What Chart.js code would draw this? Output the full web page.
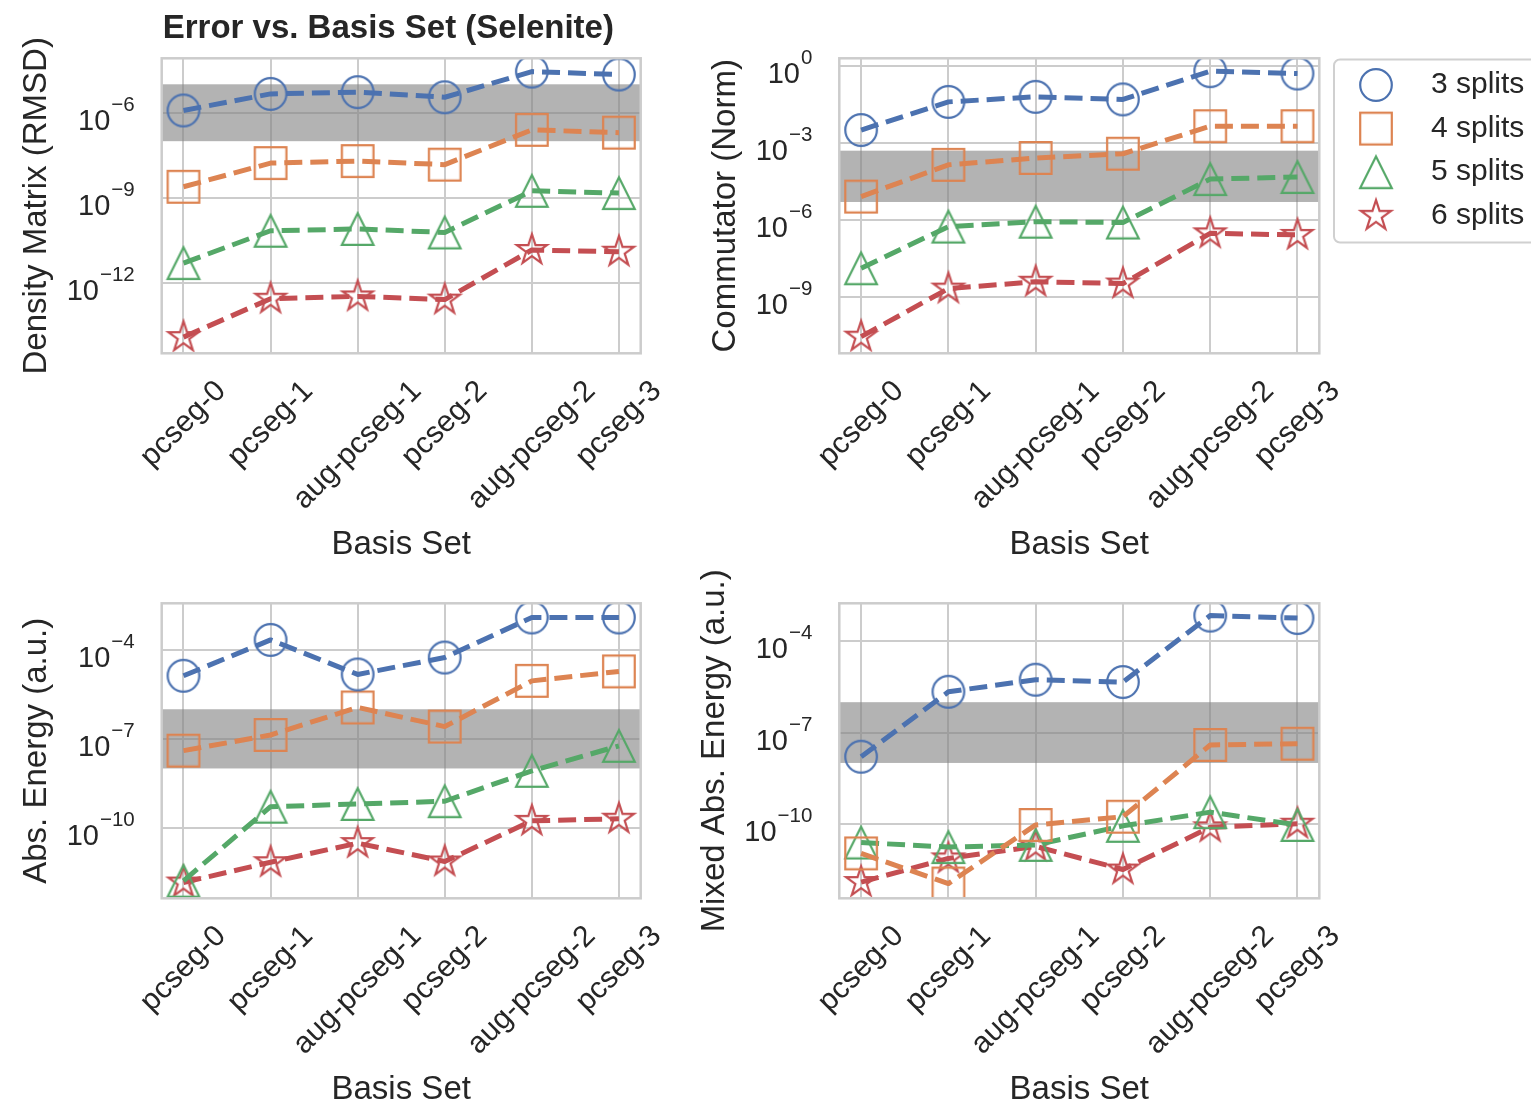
<!DOCTYPE html>
<html>
<head>
<meta charset="utf-8">
<script src="https://cdn.jsdelivr.net/npm/chart.js@4.4.1/dist/chart.umd.min.js"></script>
<style>
  html, body { margin: 0; padding: 0; background: #ffffff; overflow: hidden; }
  #wrap { position: relative; width: 1531px; height: 1101px; }
  #wrap canvas { position: absolute; left: 0; top: 0; }
</style>
</head>
<body>
<div id="wrap">
  <canvas id="density" width="1531" height="1101"></canvas>
  <canvas id="commutator" width="1531" height="1101"></canvas>
  <canvas id="energy" width="1531" height="1101"></canvas>
  <canvas id="mixed" width="1531" height="1101"></canvas>
</div>
<script>
// ---- categories and series -------------------------------------------
const basisSets = ['pcseg-0', 'pcseg-1', 'aug-pcseg-1', 'pcseg-2', 'aug-pcseg-2', 'pcseg-3'];
const seriesNames = ['3 splits', '4 splits', '5 splits', '6 splits'];

// Density matrix error (RMSD)
const density3 = [1.2e-6, 4.6e-6, 5.3e-6, 3.5e-6, 2.8e-5, 2.2e-5];
const density4 = [2.5e-9, 1.7e-8, 2.0e-8, 1.5e-8, 2.5e-7, 2.0e-7];
const density5 = [5.2e-12, 7.1e-11, 8.2e-11, 6.2e-11, 1.8e-9, 1.5e-9];
const density6 = [1.3e-14, 2.9e-13, 3.5e-13, 2.7e-13, 1.5e-11, 1.3e-11];

// Commutator norm
const comm3 = [3.2e-3, 4.0e-2, 6.3e-2, 5.0e-2, 0.63, 0.51];
const comm4 = [8.1e-6, 1.4e-4, 2.6e-4, 3.8e-4, 4.5e-3, 4.5e-3];
const comm5 = [1.3e-8, 5.5e-7, 8.5e-7, 7.9e-7, 3.9e-5, 4.7e-5];
const comm6 = [2.8e-11, 2.1e-9, 3.9e-9, 3.3e-9, 3.0e-7, 2.6e-7];

// Absolute energy error (a.u.)
const energy3 = [1.35e-5, 2.2e-4, 1.5e-5, 5.6e-5, 1.26e-3, 1.26e-3];
const energy4 = [4.0e-8, 1.35e-7, 1.15e-6, 2.6e-7, 9.1e-6, 1.9e-5];
const energy5 = [1.6e-12, 5.1e-10, 6.3e-10, 7.8e-10, 8.3e-9, 5.8e-8];
const energy6 = [1.4e-12, 6.8e-12, 3.0e-11, 7.2e-12, 1.7e-10, 2.0e-10];

// Mixed absolute energy error (a.u.)
const mixed3 = [1.6e-8, 2.2e-6, 5.5e-6, 4.6e-6, 7.1e-4, 5.9e-4];
const mixed4 = [1.05e-11, 1.07e-12, 9.1e-11, 1.7e-10, 3.9e-8, 4.3e-8];
const mixed5 = [2.4e-11, 1.7e-11, 2.0e-11, 8.5e-11, 2.4e-10, 9.1e-11];
const mixed6 = [1.2e-12, 7.2e-12, 1.8e-11, 3.1e-12, 7.6e-11, 1.0e-10];

// Tolerance bands [low, high]
const densityBand = [1e-7, 1e-5];
const commBand = [5e-6, 5e-4];
const energyBand = [1e-8, 1e-6];
const mixedBand = [1e-8, 1e-6];

// Log-axis ticks and limits
const densityTicks = [1e-6, 1e-9, 1e-12];
const commTicks = [1e0, 1e-3, 1e-6, 1e-9];
const energyTicks = [1e-4, 1e-7, 1e-10];
const mixedTicks = [1e-4, 1e-7, 1e-10];
const densityLimits = [3.5e-15, 8.2e-5];
const commLimits = [6.3e-12, 2.0];
const energyLimits = [4.1e-13, 3.8e-3];
const mixedLimits = [3.5e-13, 1.8e-3];

// ---- styling ----------------------------------------------------------
const FONT = '"Liberation Sans", Arial, Helvetica, sans-serif';
const TEXT = '#262626';
const GRID = '#cccccc';
const colors = ['#4C72B0', '#DD8452', '#55A868', '#C44E52'];
const shapes = ['circle', 'square', 'triangle', 'star'];
const TICK_PX = 30;
const POW_PX = 29;
const EXP_PX = 20.5;
const LABEL_PX = 33;

function makeMarker(shape, color) {
  const s = 44, c = s / 2, r = 15.8;
  const cv = document.createElement('canvas');
  cv.width = s; cv.height = s;
  const g = cv.getContext('2d');
  g.strokeStyle = color;
  g.lineWidth = 2.2;
  g.lineJoin = 'miter';
  g.beginPath();
  if (shape === 'circle') {
    g.arc(c, c, r, 0, Math.PI * 2);
  } else if (shape === 'square') {
    g.rect(c - r, c - r, 2 * r, 2 * r);
  } else if (shape === 'triangle') {
    g.moveTo(c, c - r); g.lineTo(c + r, c + r); g.lineTo(c - r, c + r); g.closePath();
  } else {
    const ri = r * 0.381966;
    for (let k = 0; k < 10; k++) {
      const rr = k % 2 ? ri : r;
      const ang = -Math.PI / 2 + k * Math.PI / 5;
      const px = c + rr * Math.cos(ang), py = c + rr * Math.sin(ang);
      if (k) g.lineTo(px, py); else g.moveTo(px, py);
    }
    g.closePath();
  }
  g.stroke();
  return cv;
}
const markers = shapes.map((s, k) => makeMarker(s, colors[k]));

function roundRectPath(ctx, x, y, w, h, r) {
  ctx.beginPath();
  ctx.moveTo(x + r, y);
  ctx.lineTo(x + w - r, y); ctx.arcTo(x + w, y, x + w, y + r, r);
  ctx.lineTo(x + w, y + h - r); ctx.arcTo(x + w, y + h, x + w - r, y + h, r);
  ctx.lineTo(x + r, y + h); ctx.arcTo(x, y + h, x, y + h - r, r);
  ctx.lineTo(x, y + r); ctx.arcTo(x, y, x + r, y, r);
  ctx.closePath();
}

// Decorations: tolerance band, frame, tick labels, axis titles, legend
function decorPlugin(cfg) {
  return {
    id: 'decor',
    beforeDatasetsDraw(chart) {
      const { ctx, chartArea: a } = chart;
      const y = chart.scales.y;
      const yHi = y.getPixelForValue(cfg.band[1]);
      const yLo = y.getPixelForValue(cfg.band[0]);
      ctx.save();
      ctx.fillStyle = 'rgba(128,128,128,0.6)';
      ctx.fillRect(a.left, yHi, a.right - a.left, yLo - yHi);
      ctx.restore();
    },
    afterDatasetsDraw(chart) {
      const { ctx, chartArea: a } = chart;
      ctx.save();
      ctx.strokeStyle = GRID;
      ctx.lineWidth = 2.5;
      ctx.strokeRect(a.left, a.top, a.right - a.left, a.bottom - a.top);
      ctx.restore();
    },
    afterDraw(chart) {
      const { ctx, chartArea: a } = chart;
      const xs = chart.scales.x, ys = chart.scales.y;
      ctx.save();
      ctx.fillStyle = TEXT;

      // rotated category labels, centred under each tick
      ctx.font = TICK_PX + 'px ' + FONT;
      basisSets.forEach((lab, i) => {
        const x = xs.getPixelForValue(i);
        const w = ctx.measureText(lab).width;
        const side = (w + 0.95 * TICK_PX) * Math.SQRT1_2;
        const cy = a.bottom + 23 + side / 2;
        ctx.save();
        ctx.translate(x, cy);
        ctx.rotate(-Math.PI / 4);
        ctx.textAlign = 'center';
        ctx.textBaseline = 'middle';
        ctx.fillText(lab, 0, 0);
        ctx.restore();
      });

      // power-of-ten labels
      let minLeft = Infinity;
      cfg.ticks.forEach(v => {
        const y = ys.getPixelForValue(v);
        const e = Math.round(Math.log10(v));
        const expStr = e === 0 ? '0' : '\u2212' + Math.abs(e);
        const xr = a.left - 27;
        ctx.textAlign = 'right';
        ctx.textBaseline = 'alphabetic';
        ctx.font = EXP_PX + 'px ' + FONT;
        ctx.fillText(expStr, xr, y - 2);
        const ew = ctx.measureText(expStr).width;
        ctx.font = POW_PX + 'px ' + FONT;
        ctx.fillText('10', xr - ew - 1, y + 17);
        const bw = ctx.measureText('10').width;
        minLeft = Math.min(minLeft, xr - ew - 1 - bw);
      });

      // y-axis title
      ctx.save();
      ctx.translate(minLeft - 13, (a.top + a.bottom) / 2);
      ctx.rotate(-Math.PI / 2);
      ctx.font = LABEL_PX + 'px ' + FONT;
      ctx.textAlign = 'center';
      ctx.textBaseline = 'bottom';
      ctx.fillText(cfg.yTitle, 0, 0);
      ctx.restore();

      // x-axis title
      ctx.font = LABEL_PX + 'px ' + FONT;
      ctx.textAlign = 'center';
      ctx.textBaseline = 'alphabetic';
      ctx.fillText('Basis Set', (a.left + a.right) / 2, a.bottom + 201);

      if (cfg.title) {
        ctx.font = 'bold 33px ' + FONT;
        ctx.textAlign = 'left';
        ctx.fillText(cfg.title, a.left + 1, 37.5);
      }

      if (cfg.legend) {
        roundRectPath(ctx, 1334, 59.5, 240, 183, 6);
        ctx.fillStyle = 'rgba(255,255,255,0.85)';
        ctx.fill();
        ctx.strokeStyle = '#d0d0d0';
        ctx.lineWidth = 2;
        ctx.stroke();
        seriesNames.forEach((name, k) => {
          const yy = 85 + k * 43.6;
          ctx.drawImage(markers[k], 1376 - 22, yy - 22);
          ctx.font = '30px ' + FONT;
          ctx.fillStyle = TEXT;
          ctx.textAlign = 'left';
          ctx.textBaseline = 'middle';
          ctx.fillText(name, 1431, yy);
        });
      }
      ctx.restore();
    }
  };
}

function buildPanel(id, frame, series, cfg) {
  const datasets = series.map((vals, k) => ({
    label: seriesNames[k],
    data: vals.map((v, i) => ({ x: i, y: v })),
    borderColor: colors[k],
    backgroundColor: 'transparent',
    borderWidth: 5,
    borderDash: [18, 8],
    borderCapStyle: 'butt',
    borderJoinStyle: 'round',
    pointStyle: markers[k],
    pointRadius: 16,
    pointHoverRadius: 16,
    tension: 0,
    fill: false,
    clip: 0
  }));
  return new Chart(document.getElementById(id), {
    type: 'line',
    data: { datasets },
    options: {
      responsive: false,
      animation: false,
      devicePixelRatio: 1,
      events: [],
      layout: {
        autoPadding: false,
        padding: { left: frame[0], top: frame[1], right: 1531 - frame[2], bottom: 1101 - frame[3] }
      },
      plugins: { legend: { display: false }, tooltip: { enabled: false }, title: { display: false } },
      scales: {
        x: {
          type: 'linear',
          min: -0.25, max: 5.25,
          bounds: 'data',
          afterBuildTicks: s => { s.ticks = basisSets.map((_, i) => ({ value: i })); },
          afterFit: s => { s.height = 0; },
          ticks: { display: false },
          grid: { color: GRID, lineWidth: 2, drawTicks: false },
          border: { display: false }
        },
        y: {
          type: 'logarithmic',
          min: cfg.limits[0], max: cfg.limits[1],
          bounds: 'data',
          afterBuildTicks: s => { s.ticks = cfg.ticks.map(v => ({ value: v })); },
          afterFit: s => { s.width = 0; },
          ticks: { display: false },
          grid: { color: GRID, lineWidth: 2, drawTicks: false },
          border: { display: false }
        }
      }
    },
    plugins: [decorPlugin(cfg)]
  });
}

buildPanel('density', [161.7, 58.3, 640.7, 353.3], [density3, density4, density5, density6], {
  band: densityBand, ticks: densityTicks, limits: densityLimits,
  yTitle: 'Density Matrix (RMSD)', title: 'Error vs. Basis Set (Selenite)'
});
buildPanel('commutator', [839.3, 58.3, 1319.3, 353.3], [comm3, comm4, comm5, comm6], {
  band: commBand, ticks: commTicks, limits: commLimits,
  yTitle: 'Commutator (Norm)', legend: true
});
buildPanel('energy', [161.7, 603.3, 640.7, 898.3], [energy3, energy4, energy5, energy6], {
  band: energyBand, ticks: energyTicks, limits: energyLimits,
  yTitle: 'Abs. Energy (a.u.)'
});
buildPanel('mixed', [839.3, 603.3, 1319.3, 898.3], [mixed3, mixed4, mixed5, mixed6], {
  band: mixedBand, ticks: mixedTicks, limits: mixedLimits,
  yTitle: 'Mixed Abs. Energy (a.u.)'
});
</script>
</body>
</html>
